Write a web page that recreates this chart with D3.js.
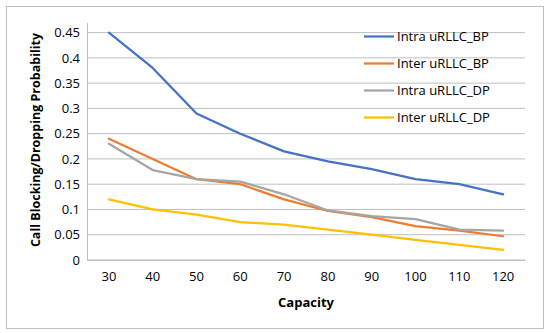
<!DOCTYPE html>
<html>
<head>
<meta charset="utf-8">
<script src="https://cdn.jsdelivr.net/npm/d3@7"></script>
<style>
  body { margin: 0; background: #fff; }
  text { font-family: "Open Sans", "Liberation Sans", sans-serif; fill: #000; }
</style>
</head>
<body>
<div id="chart"></div>
<script>
var svgWidth = 550;
var svgHeight = 333;

// data
var capacity = [30, 40, 50, 60, 70, 80, 90, 100, 110, 120];
var intraBP = [0.45, 0.38, 0.29, 0.25, 0.215, 0.195, 0.18, 0.16, 0.15, 0.13];
var interBP = [0.24, 0.20, 0.16, 0.15, 0.12, 0.097, 0.085, 0.067, 0.058, 0.047];
var intraDP = [0.23, 0.178, 0.16, 0.155, 0.13, 0.098, 0.087, 0.081, 0.06, 0.058];
var interDP = [0.12, 0.10, 0.09, 0.075, 0.07, 0.06, 0.05, 0.04, 0.03, 0.02];
var seriesNames = ["Intra uRLLC_BP", "Inter uRLLC_BP", "Intra uRLLC_DP", "Inter uRLLC_DP"];
var seriesColors = ["#4472C4", "#ED7D31", "#A5A5A5", "#FFC000"];
var yTicks = [0, 0.05, 0.1, 0.15, 0.2, 0.25, 0.3, 0.35, 0.4, 0.45];

var series = [intraBP, interBP, intraDP, interDP].map(function(vals, i) {
    return { name: seriesNames[i], color: seriesColors[i], values: vals };
});

var plot = { left: 87, right: 525, top: 22.5, bottom: 260 };

var svg = d3.select("#chart")
    .append("svg")
    .attr("width", svgWidth)
    .attr("height", svgHeight);

// outer chart border
svg.append("rect")
    .attr("x", 6.5).attr("y", 6.5)
    .attr("width", 537).attr("height", 322)
    .attr("fill", "#fff")
    .attr("stroke", "#bfbfbf")
    .attr("stroke-width", 1);

var x = d3.scaleBand()
    .domain(capacity)
    .range([plot.left, plot.right]);

var y = d3.scaleLinear()
    .domain([0, 0.47])
    .range([plot.bottom, plot.top]);

// gridlines
svg.append("g")
    .selectAll("line")
    .data(yTicks)
    .enter().append("line")
    .attr("x1", plot.left)
    .attr("x2", plot.right)
    .attr("y1", d => y(d))
    .attr("y2", d => y(d))
    .attr("stroke", "#bfbfbf")
    .attr("stroke-width", 1);

// y axis
var leftAxis = d3.axisLeft(y)
    .tickValues(yTicks)
    .tickSize(0)
    .tickPadding(7)
    .tickFormat(d => String(+d.toFixed(2)));

var yAxis = svg.append("g")
    .attr("transform", `translate(${plot.left}, 0)`)
    .call(leftAxis);
yAxis.select(".domain").attr("stroke", "#bfbfbf");
yAxis.selectAll("text").attr("font-size", "13px").style("font-family", "'Open Sans', sans-serif");

// x axis
var bottomAxis = d3.axisBottom(x)
    .tickSize(0)
    .tickPadding(12);

var xAxis = svg.append("g")
    .attr("transform", `translate(0, ${plot.bottom})`)
    .call(bottomAxis);
xAxis.select(".domain").attr("stroke", "#bfbfbf");
xAxis.selectAll("text").attr("font-size", "13px").style("font-family", "'Open Sans', sans-serif");

// lines
var line = d3.line()
    .x((d, i) => x(capacity[i]) + x.bandwidth() / 2)
    .y(d => y(d));

svg.append("g")
    .selectAll("path")
    .data(series)
    .enter().append("path")
    .attr("d", d => line(d.values))
    .attr("fill", "none")
    .attr("stroke", d => d.color)
    .attr("stroke-width", 2.25)
    .attr("stroke-linejoin", "round")
    .attr("stroke-linecap", "round");

// axis titles
svg.append("text")
    .attr("x", (plot.left + plot.right) / 2)
    .attr("y", 307)
    .attr("text-anchor", "middle")
    .attr("font-size", "13px")
    .attr("font-weight", "bold")
    .text("Capacity");

svg.append("text")
    .attr("transform", "translate(40, 140) rotate(-90)")
    .attr("text-anchor", "middle")
    .attr("font-size", "12.5px")
    .attr("font-weight", "bold")
    .text("Call Blocking/Dropping Probability");

// legend
var legend = svg.append("g")
    .selectAll("g")
    .data(series)
    .enter().append("g")
    .attr("transform", (d, i) => `translate(364, ${36.5 + i * 27})`);

legend.append("line")
    .attr("x1", 0).attr("x2", 30)
    .attr("stroke", d => d.color)
    .attr("stroke-width", 2.25);

legend.append("text")
    .attr("x", 33)
    .attr("dy", "0.35em")
    .attr("font-size", "13px")
    .text(d => d.name);
</script>
</body>
</html>
